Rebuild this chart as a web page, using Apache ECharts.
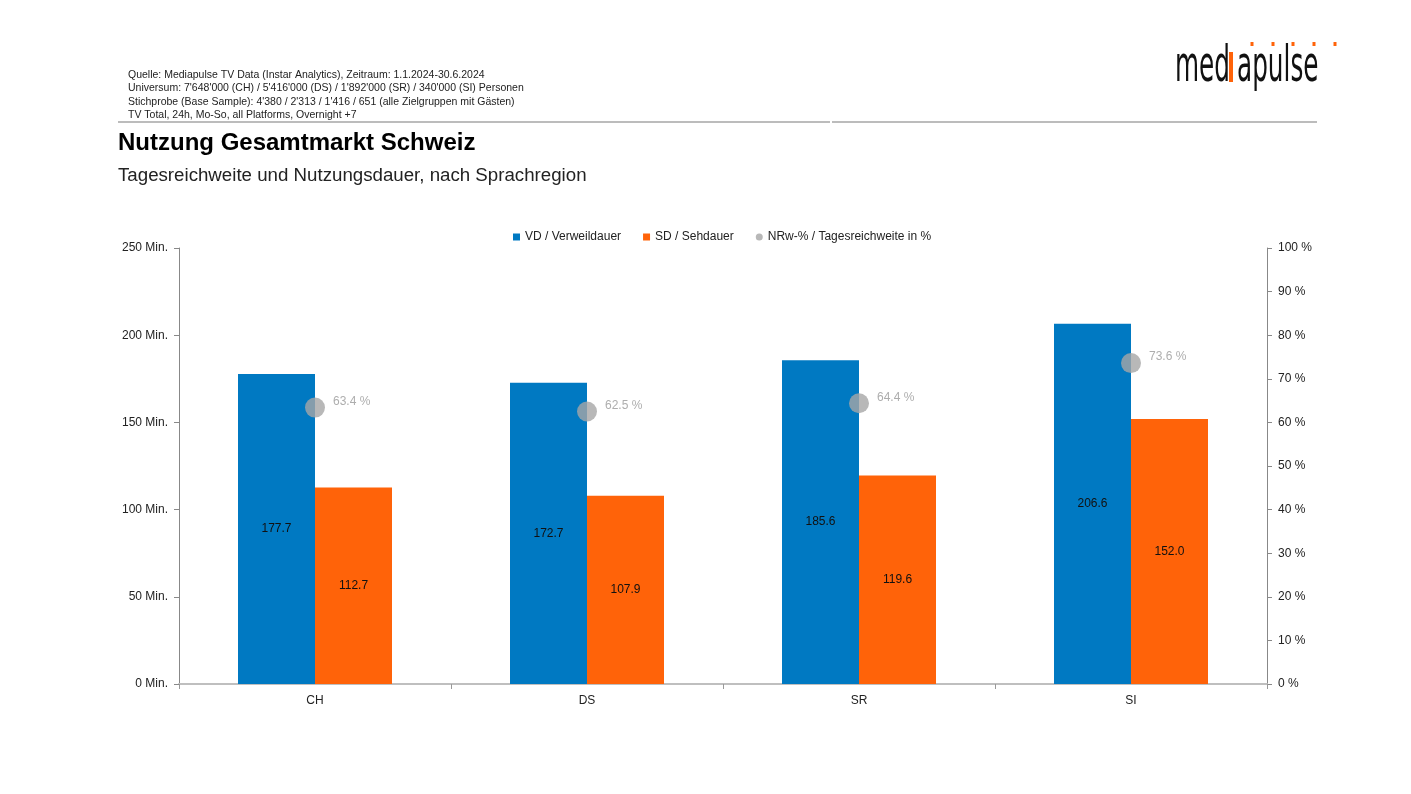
<!DOCTYPE html>
<html><head><meta charset="utf-8">
<script src="https://cdn.jsdelivr.net/npm/echarts@6/dist/echarts.min.js"></script>
<style>html,body{margin:0;padding:0;background:#fff}#c{width:1411px;height:794px}</style>
</head><body><div id="c"></div>
<script>
const categories = ['CH', 'DS', 'SR', 'SI'];
const vdValues = [177.7, 172.7, 185.6, 206.6];
const sdValues = [112.7, 107.9, 119.6, 152.0];
const nrwValues = [63.4, 62.5, 64.4, 73.6];
const seriesNames = ['VD / Verweildauer', 'SD / Sehdauer', 'NRw-% / Tagesreichweite in %'];
const sourceLines = [
  'Quelle: Mediapulse TV Data (Instar Analytics), Zeitraum: 1.1.2024-30.6.2024',
  "Universum: 7'648'000 (CH) / 5'416'000 (DS) / 1'892'000 (SR) / 340'000 (SI) Personen",
  "Stichprobe (Base Sample): 4'380 / 2'313 / 1'416 / 651 (alle Zielgruppen mit Gästen)",
  'TV Total, 24h, Mo-So, all Platforms, Overnight +7'
];
const titleText = 'Nutzung Gesamtmarkt Schweiz';
const subtitleText = 'Tagesreichweite und Nutzungsdauer, nach Sprachregion';

const FONT = '"Liberation Sans", Arial, sans-serif';
const LOGOFONT = '50px "Liberation Sans Narrow", "DejaVu Sans Condensed", sans-serif';
const chart = echarts.init(document.getElementById('c'));

const graphics = [];
sourceLines.forEach((t, i) => {
  graphics.push({type: 'text', left: 128, top: 69.5 + i * 13.5,
    style: {text: t, font: '10.5px ' + FONT, fill: '#222'}});
});
graphics.push({type: 'line', shape: {x1: 118, y1: 122, x2: 830, y2: 122}, style: {stroke: '#a6a6a6', lineWidth: 1.5}});
graphics.push({type: 'line', shape: {x1: 832, y1: 122, x2: 1317, y2: 122}, style: {stroke: '#a6a6a6', lineWidth: 1.5}});
graphics.push({type: 'text', left: 118, top: 131, style: {text: titleText, font: 'bold 24px ' + FONT, fill: '#000'}});
graphics.push({type: 'text', left: 118, top: 166, style: {text: subtitleText, font: '18.7px ' + FONT, fill: '#222'}});
// logo
graphics.push({type: 'text', x: 1175, y: 68, scaleX: 0.55, originX: 0, originY: 0,
  style: {text: 'med', font: LOGOFONT, fill: '#111', verticalAlign: 'middle'}});
graphics.push({type: 'rect', shape: {x: 1229, y: 52, width: 4, height: 30}, style: {fill: '#ff6309'}});
graphics.push({type: 'text', x: 1237, y: 68, scaleX: 0.55, originX: 0, originY: 0,
  style: {text: 'apulse', font: LOGOFONT, fill: '#111', verticalAlign: 'middle'}});
[1252, 1273, 1293, 1314, 1335].forEach(x => {
  graphics.push({type: 'rect', shape: {x: x - 1.5, y: 42, width: 3, height: 4}, style: {fill: '#ff6309'}});
});

chart.setOption({
  animation: false,
  textStyle: {fontFamily: FONT},
  graphic: graphics,
  legend: {
    top: 226, left: 508, itemWidth: 7, itemHeight: 7, itemGap: 22,
    textStyle: {fontSize: 12, color: '#222', fontFamily: FONT},
    data: [
      {name: seriesNames[0], icon: 'rect'},
      {name: seriesNames[1], icon: 'rect'},
      {name: seriesNames[2], icon: 'circle'}
    ]
  },
  grid: {left: 179, right: 144, top: 248, bottom: 110},
  xAxis: {
    type: 'category', data: categories,
    axisLine: {lineStyle: {color: '#bfbfbf', width: 2}},
    axisTick: {show: true, length: 5, lineStyle: {color: '#999'}},
    axisLabel: {color: '#222', fontSize: 12, margin: 11}
  },
  yAxis: [
    {type: 'value', min: 0, max: 250, interval: 50,
     axisLine: {show: true, lineStyle: {color: '#888'}},
     axisTick: {show: true, length: 5, lineStyle: {color: '#888'}},
     splitLine: {show: false},
     axisLabel: {color: '#222', fontSize: 12, margin: 11, formatter: v => v + ' Min.'}},
    {type: 'value', min: 0, max: 100, interval: 10, position: 'right',
     axisLine: {show: true, lineStyle: {color: '#888'}},
     axisTick: {show: true, length: 5, lineStyle: {color: '#888'}},
     splitLine: {show: false},
     axisLabel: {color: '#222', fontSize: 12, margin: 11, formatter: v => v + ' %'}}
  ],
  series: [
    {name: seriesNames[0], type: 'bar', data: vdValues, barWidth: 77, barGap: '0%',
     itemStyle: {color: '#0079c2'},
     label: {show: true, position: 'inside', color: '#111', fontSize: 12, formatter: p => p.value.toFixed(1)}},
    {name: seriesNames[1], type: 'bar', data: sdValues, barWidth: 77, barGap: '0%',
     itemStyle: {color: '#ff6309'},
     label: {show: true, position: 'inside', color: '#111', fontSize: 12, formatter: p => p.value.toFixed(1)}},
    {name: seriesNames[2], type: 'scatter', yAxisIndex: 1, data: nrwValues, symbol: 'circle', symbolSize: 20,
     itemStyle: {color: '#a6a6a6'}, z: 5,
     label: {show: true, position: 'right', distance: 8, offset: [0, -6], color: '#999', fontSize: 12, formatter: p => p.value.toFixed(1) + ' %'}}
  ]
});
</script></body></html>
